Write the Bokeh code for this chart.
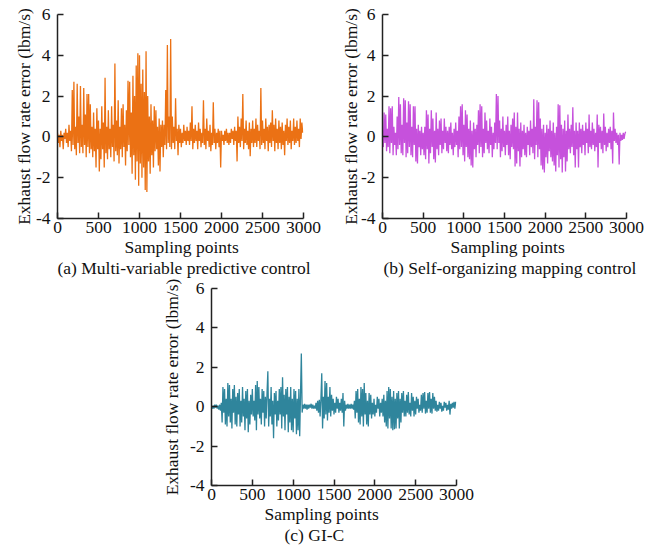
from bokeh.plotting import figure
from bokeh.layouts import column, row, Spacer
from bokeh.models import Title, FixedTicker
from bokeh.embed import file_html
from bokeh.resources import INLINE

x_ticks = [0, 500, 1000, 1500, 2000, 2500, 3000]
y_ticks = [-4, -2, 0, 2, 4, 6]
x_label = "Sampling points"
y_label = "Exhaust flow rate error (lbm/s)"
captions = ["(a) Multi-variable predictive control",
            "(b) Self-organizing mapping control",
            "(c) GI-C"]
sample_step = 10

# (a) Multi-variable predictive control, one value per 10 sampling points
mpc_error = [
    0.2, -0.3, 0.1, -0.5, 0.3, -0.2, 0.1, -0.6, 0.2, -0.1,
    0.4, -0.3, 0.2, -0.5, 0.6, -0.2, 0.3, -0.7, 2.3, -0.4,
    2.7, -0.6, 0.5, -0.9, 2.6, -0.3, 1.0, -0.8, 2.5, -0.5,
    0.6, -0.8, 2.4, -0.4, 1.1, -1.0, 2.1, -0.5, 2.1, -0.8,
    1.6, -0.6, 0.5, -1.0, 1.2, -0.7, 0.4, -1.5, 1.4, -0.6,
    0.8, -1.7, 0.4, -1.1, 1.5, -0.6, 0.7, -1.5, 2.9, -0.8,
    0.5, -1.1, 1.3, -0.6, 0.4, -1.0, 1.5, -0.5, 0.6, -1.2,
    3.6, -0.7, 0.8, -0.9, 1.8, -1.3, 0.5, -0.6, 1.4, -1.0,
    1.6, -0.5, 0.6, -1.4, 1.3, -0.7, 2.75, -0.4, 2.7, -1.0,
    1.2, -1.8, 3.0, -0.9, 2.0, -2.1, 3.5, -1.2, 4.1, -2.4,
    4.0, -1.3, 2.6, -2.0, 3.3, -1.5, 2.2, -2.6, 4.2, -2.7,
    2.0, -1.2, 1.0, -1.8, 1.6, -0.9, 0.8, -1.5, 1.5, -0.7,
    1.3, -0.6, 0.5, -1.4, 0.9, -1.7, 0.6, -0.5, 0.8, -1.0,
    0.6, -0.4, 2.3, -0.6, 4.5, -0.3, 1.0, -0.5, 4.8, -0.6,
    1.0, -0.3, 0.5, -0.6, 1.9, -0.2, 0.4, -0.9, 0.6, -0.3,
    0.4, -0.5, 0.2, -0.3, 0.6, -0.2, 0.3, -0.4, 0.5, -0.2,
    0.3, -0.4, 0.7, -0.2, 1.5, -0.6, 0.4, -0.3, 0.6, -0.2,
    0.3, -0.6, 0.7, -0.2, 0.4, -0.5, 0.2, -0.3, 1.8, -0.4,
    0.4, -0.6, 0.9, -0.2, 0.3, -0.5, 0.6, -0.7, 0.2, -0.4,
    1.7, -0.3, 0.4, -0.6, 0.2, -0.3, 0.4, -0.5, 0.3, -1.5,
    0.3, -0.2, 0.1, -0.4, 0.3, -0.2, 0.4, -0.3, 0.2, -0.4,
    0.2, -0.3, 0.4, -0.1, 0.3, -0.4, 0.5, -0.2, 0.3, -1.2,
    1.0, -0.3, 0.5, -0.5, 0.9, -0.2, 2.1, -0.6, 0.4, -0.3,
    0.8, -0.4, 0.3, -0.6, 0.7, -0.95, 0.4, -0.3, 0.8, -0.5,
    0.4, -0.3, 0.9, -0.5, 0.6, -0.2, 0.3, -0.6, 2.4, -0.4,
    0.8, -0.3, 0.4, -0.6, 0.9, -0.2, 0.5, -0.7, 0.6, -0.3,
    0.7, -0.5, 1.3, -0.2, 0.6, -0.7, 0.9, -0.3, 0.4, -0.6,
    0.8, -0.3, 0.5, -0.6, 0.7, -0.4, 0.3, -0.9, 0.6, -0.2,
    0.9, -0.4, 0.5, -0.3, 0.8, -0.6, 0.3, -0.2, 0.9, -0.4,
    0.5, -0.3, 0.8, -0.2, 0.4, -0.5, 0.9, -0.1, 0.7, 0.2,
]

# (b) Self-organizing mapping control
som_error = [
    0.0, -0.5, 1.2, -0.3, 1.1, -0.7, 0.4, -0.5, 1.5, -0.8,
    1.4, -0.3, 1.5, -0.9, 0.5, -0.4, 0.2, -0.9, 1.0, -0.6,
    1.95, -0.4, 1.6, -0.8, 0.6, -0.9, 1.9, -0.3, 1.8, -1.0,
    0.7, -0.8, 1.75, -0.5, 1.6, -0.9, 0.5, -1.0, 1.5, -0.4,
    1.5, -1.2, 0.4, -1.3, 0.6, -0.5, 0.3, -0.9, 0.5, -0.6,
    0.2, -0.9, 0.5, -1.1, 1.3, -0.6, 1.1, -1.3, 0.4, -0.8,
    1.3, -0.5, 0.9, -1.1, 0.3, -1.25, 1.2, -0.6, 0.4, -0.9,
    0.8, -0.4, 0.9, -0.8, 0.3, -0.6, 0.9, -0.3, 0.5, -0.7,
    0.3, -0.8, 0.5, -0.4, 0.7, -0.6, 0.2, -0.9, 0.4, -0.5,
    0.7, -0.4, 0.3, -1.0, 1.0, -0.6, 1.5, -0.5, 1.6, -0.9,
    0.6, -1.2, 1.3, -0.5, 1.1, -1.0, 0.4, -1.1, 0.8, -1.4,
    0.3, -1.5, 0.7, -0.6, 0.4, -1.0, 0.6, -0.4, 1.3, -0.8,
    1.6, -0.5, 1.5, -1.0, 0.4, -0.8, 1.2, -0.3, 0.8, -0.6,
    0.3, -0.8, 0.9, -0.4, 0.5, -1.0, 0.2, -0.6, 0.7, -0.3,
    2.1, -0.6, 2.0, -0.3, 0.8, -1.0, 0.4, -0.7, 1.0, -0.5,
    0.3, -0.9, 0.6, -0.4, 1.0, -0.9, 0.3, -1.1, 0.6, -0.5,
    0.9, -0.6, 1.2, -1.45, 0.5, -1.3, 1.2, -0.7, 0.4, -1.45,
    0.7, -1.0, 0.3, -0.6, 0.6, -0.9, 0.2, -1.0, 0.5, -0.4,
    0.3, -0.9, 0.8, -0.5, 0.4, -0.8, 1.85, -1.1, 0.5, -0.4,
    1.8, -1.0, 1.7, -0.6, 0.9, -1.4, 0.4, -1.6, 0.6, -1.75,
    0.2, -1.0, 0.6, -1.3, 0.4, -0.7, 0.8, -1.0, 0.3, -1.2,
    0.7, -1.4, 0.2, -1.7, 0.5, -0.9, 1.6, -1.5, 1.55, -1.1,
    0.6, -1.75, 0.4, -1.0, 0.8, -1.7, 0.3, -1.2, 1.1, -0.6,
    0.4, -0.8, 0.6, -0.5, 1.45, -0.9, 0.3, -1.5, 0.7, -0.6,
    0.3, -1.5, 0.7, -0.5, 0.4, -0.8, 0.6, -0.4, 0.3, -0.9,
    0.7, -0.3, 0.4, -0.8, 1.1, -0.5, 0.3, -0.6, 0.7, -0.4,
    0.4, -0.7, 0.2, -0.5, 1.1, -1.5, 0.6, -0.3, 0.5, -0.6,
    0.3, -0.8, 1.15, -0.4, 0.5, -0.7, 0.2, -0.5, 0.4, -0.3,
    0.5, -0.6, 0.3, -1.3, 1.2, -0.2, 0.4, -0.3, 0.2, -0.4,
    0.1, -1.35, 0.2, -0.2, 0.1, -0.15, 0.2, -0.1, 0.15, 0.25,
]

# (c) GI-C
gic_error = [
    0.0, -0.1, 0.05, -0.1, 0.1, -0.05, 0.1, -0.1, 0.05, -0.15,
    0.1, -0.2, 0.2, -0.8, 1.0, -0.3, 0.9, -0.9, 0.4, -1.0,
    1.2, -0.5, 1.1, -0.8, 0.4, -1.1, 0.9, -0.3, 1.1, -0.9,
    0.5, -1.0, 0.7, -0.4, 0.9, -1.0, 0.3, -0.8, 1.0, -0.5,
    0.4, -1.2, 0.8, -0.6, 0.9, -1.3, 0.3, -0.9, 0.6, -0.4,
    0.9, -0.5, 0.3, -0.7, 1.1, -1.2, 1.3, -0.4, 1.0, -0.6,
    0.4, -0.9, 0.9, -0.3, 0.8, -1.0, 0.5, -0.6, 0.7, 1.8,
    -1.0, 0.4, -0.5, 1.0, -0.9, 0.3, -1.6, 0.7, -0.4, 0.8,
    -1.0, 0.3, -0.7, 0.9, -0.4, 1.0, -1.1, 1.5, -0.5, 0.6,
    -1.2, 0.9, -0.4, 1.0, -1.3, 0.5, -0.8, 1.0, -1.2, 0.4,
    -1.3, 0.9, -0.6, 0.8, -1.4, 0.4, -1.2, 0.9, -1.5, 0.6,
    2.7, -0.3, 0.1, -0.1, 0.15, -0.1, 0.1, -0.15, 0.1, -0.1,
    0.1, -0.05, 0.15, -0.1, 0.1, -0.1, 0.05, -0.1, 0.2, -0.2,
    0.3, -0.3, 0.35, -0.5, 0.4, 1.7, -1.1, 0.5, -0.6, 1.3,
    -0.4, 1.2, -0.7, 0.5, -0.3, 1.0, -0.5, 0.6, -0.2, 0.4,
    -0.4, 0.2, -0.3, 0.5, -0.1, 0.4, -0.3, 0.2, -0.2, 0.4,
    -0.3, 0.7, -1.0, 0.3, -0.2, 0.1, -0.1, 0.15, -0.1, 0.1,
    -0.1, 0.15, -0.1, 0.1, -0.15, 0.3, -0.6, 0.8, -0.3, 0.9,
    -0.8, 0.4, -0.9, 1.0, -0.5, 0.9, -1.0, 1.2, -0.4, 0.7,
    -0.9, 0.3, -1.0, 0.7, -0.4, 0.6, -0.6, 0.2, -0.4, 0.4,
    -0.5, 0.1, -0.3, 0.5, -0.1, 0.4, -0.5, 0.2, -0.3, 0.4,
    -0.5, 0.6, -0.8, 0.3, -1.0, 0.8, -1.1, 1.0, -0.6, 0.9,
    -1.1, 0.5, -1.2, 0.8, -1.15, 0.4, -1.1, 0.7, -0.6, 0.8,
    -1.1, 0.4, -0.8, 0.7, -0.3, 0.8, -0.5, 0.3, -0.5, 0.6,
    -0.3, 0.75, -0.4, 0.2, -0.5, 0.7, -0.2, 0.5, -0.5, 0.3,
    -0.4, 0.5, -0.1, 0.4, -0.3, 0.1, -0.2, 0.6, -0.3, 0.7,
    -0.1, 0.75, -0.35, 0.3, -0.3, 0.7, -0.1, 0.75, -0.3, 0.4,
    -0.35, 0.7, -0.1, 0.5, -0.2, 0.3, -0.25, 0.1, -0.2, 0.25,
    -0.1, 0.2, -0.25, 0.05, -0.2, 0.25, -0.05, 0.2, -0.2, 0.1,
    -0.15, 0.3, -0.4, 0.15, -0.1, 0.2, -0.05, 0.25, -0.1, 0.25,
]

colors = ["#EB7114", "#C651DC", "#2F859C"]
FONT = "Liberation Serif"
FONT_SIZE = "17.5px"
AXIS_COLOR = "#222222"
TEXT_COLOR = "#111111"


def make_panel(values, color, caption, frame_w, frame_h, left, right, top, bottom,
               ylabel_standoff, xlabel_offset, caption_offset):
    p = figure(frame_width=frame_w, frame_height=frame_h,
               x_range=(0, 3000), y_range=(-4, 6),
               output_backend="svg", toolbar_location=None,
               min_border_left=left, min_border_right=right,
               min_border_top=top, min_border_bottom=bottom)
    xs = [sample_step * i for i in range(len(values))]
    p.line(xs, values, line_color=color, line_width=1.3)
    p.xgrid.visible = False
    p.ygrid.visible = False
    p.outline_line_color = None
    p.background_fill_color = "white"
    p.border_fill_color = "white"
    for ax in (p.xaxis[0], p.yaxis[0]):
        ax.axis_line_color = AXIS_COLOR
        ax.axis_line_width = 1.5
        ax.major_tick_line_color = AXIS_COLOR
        ax.major_tick_line_width = 1.5
        ax.major_tick_in = 6
        ax.major_tick_out = 0
        ax.minor_tick_line_color = None
        ax.major_label_text_font = FONT
        ax.major_label_text_font_size = FONT_SIZE
        ax.major_label_text_color = TEXT_COLOR
        ax.axis_label_text_font = FONT
        ax.axis_label_text_font_size = FONT_SIZE
        ax.axis_label_text_font_style = "normal"
        ax.axis_label_text_color = TEXT_COLOR
    p.xaxis.ticker = FixedTicker(ticks=x_ticks)
    p.yaxis.ticker = FixedTicker(ticks=y_ticks)
    p.yaxis.major_label_overrides = {t: str(t) for t in y_ticks}
    p.yaxis.axis_label = y_label
    p.xaxis.major_label_standoff = 3
    p.yaxis.major_label_standoff = 7
    p.yaxis.axis_label_standoff = ylabel_standoff
    t1 = Title(text=x_label, align="left", offset=xlabel_offset, text_font=FONT,
               text_font_size=FONT_SIZE, text_font_style="normal",
               text_color=TEXT_COLOR, standoff=-2)
    t2 = Title(text=caption, align="left", offset=caption_offset, text_font=FONT,
               text_font_size=FONT_SIZE, text_font_style="normal",
               text_color=TEXT_COLOR, standoff=1)
    p.add_layout(t1, "below")
    p.add_layout(t2, "below")
    return p


pa = make_panel(mpc_error, colors[0], captions[0], 246, 204, 57, 29, 14, 61, -1, 67, 0)
pb = make_panel(som_error, colors[1], captions[1], 244, 204, 50, 32, 14, 61, -3, 68, 1)
pc = make_panel(gic_error, colors[2], captions[2], 245, 197, 56, 36, 9, 61, 5, 53, 73)

layout = column(row(pa, pb), row(Spacer(width=155, height=267), pc))

open("out.html", "w").write(file_html(layout, INLINE))
